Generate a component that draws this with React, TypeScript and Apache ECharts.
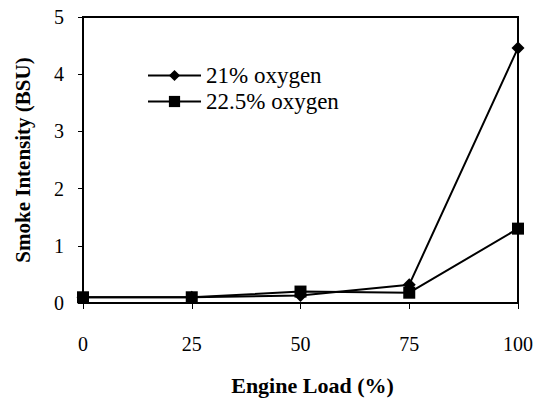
import React, { useEffect, useRef } from "react";
import * as echarts from "echarts";

const loads = [0, 25, 50, 75, 100];
const oxygen21 = [0.1, 0.1, 0.13, 0.32, 4.46];
const oxygen225 = [0.1, 0.1, 0.2, 0.18, 1.3];
const seriesNames = ["21% oxygen", "22.5% oxygen"];

const FONT = "Times New Roman, Liberation Serif, DejaVu Serif, serif";

export default function App() {
  const ref = useRef<HTMLDivElement>(null);
  useEffect(() => {
    if (!ref.current) return;
    const chart = echarts.init(ref.current, null, { renderer: "svg" });
    chart.setOption({
      animation: false,
      backgroundColor: "#fff",
      textStyle: { fontFamily: FONT, color: "#000" },
      grid: {
        left: 83,
        right: 21,
        top: 17,
        bottom: 92,
        show: true,
        borderColor: "#000",
        borderWidth: 2,
      },
      legend: {
        left: 147,
        top: 64,
        padding: 0,
        orient: "vertical",
        itemWidth: 53,
        itemHeight: 14,
        itemGap: 3,
        textStyle: { fontFamily: FONT, fontSize: 23, color: "#000" },
        data: seriesNames,
      },
      xAxis: {
        type: "value",
        min: 0,
        max: 100,
        interval: 25,
        name: "Engine Load (%)",
        nameLocation: "middle",
        nameGap: 71,
        nameTextStyle: {
          fontFamily: FONT,
          fontSize: 22,
          fontWeight: "bold",
          color: "#000",
          padding: [0, 0, 0, 24],
        },
        axisLine: { lineStyle: { color: "#000", width: 2 } },
        axisTick: { show: true, length: 6, lineStyle: { color: "#000", width: 1 } },
        axisLabel: { fontFamily: FONT, fontSize: 20, color: "#000", margin: 31 },
        splitLine: { show: false },
      },
      yAxis: {
        type: "value",
        min: 0,
        max: 5,
        interval: 1,
        name: "Smoke Intensity (BSU)",
        nameLocation: "middle",
        nameGap: 50,
        nameTextStyle: { fontFamily: FONT, fontSize: 21, fontWeight: "bold", color: "#000" },
        axisLine: { show: true, lineStyle: { color: "#000", width: 2 } },
        axisTick: { show: true, length: 5, lineStyle: { color: "#000", width: 1 } },
        axisLabel: { fontFamily: FONT, fontSize: 20, color: "#000", margin: 19 },
        splitLine: { show: false },
      },
      series: [
        {
          name: seriesNames[0],
          type: "line",
          data: loads.map((x, i) => [x, oxygen21[i]]),
          symbol: "diamond",
          symbolSize: 13,
          lineStyle: { color: "#000", width: 2 },
          itemStyle: { color: "#000" },
          z: 2,
        },
        {
          name: seriesNames[1],
          type: "line",
          data: loads.map((x, i) => [x, oxygen225[i]]),
          symbol: "rect",
          symbolSize: 12,
          lineStyle: { color: "#000", width: 2 },
          itemStyle: { color: "#000" },
          z: 3,
        },
      ],
    });
    return () => chart.dispose();
  }, []);
  return <div ref={ref} style={{ width: 539, height: 401, position: "absolute", left: 0, top: 0 }} />;
}
